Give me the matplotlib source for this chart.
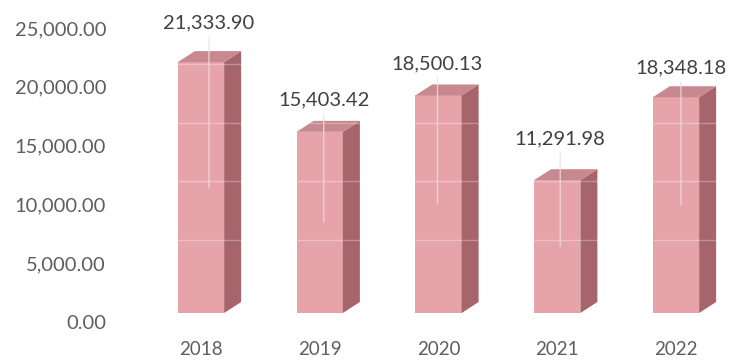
import numpy as np
import matplotlib.pyplot as plt
from matplotlib.patches import Polygon
from matplotlib.transforms import ScaledTranslation

years = ['2018', '2019', '2020', '2021', '2022']
values = [21333.90, 15403.42, 18500.13, 11291.98, 18348.18]
yticks = [0, 5000, 10000, 15000, 20000, 25000]

# where the data labels sit, pixels from the top of each bar (hand placed in the original)
label_off = [(8, 39), (4, 32), (-1, 32), (3, 41), (5, 29)]

front_col = '#E6A3A9'
side_col = '#A6646B'
top_col = '#C7898F'
grey = '#5E5E5E'

plt.rcParams['font.family'] = ['Lato', 'DejaVu Sans']

fig = plt.figure(figsize=(7.33, 3.62), dpi=100)
ax = fig.add_axes([120 / 733, 40 / 362, 610 / 733, 312 / 362])
xmin, xmax = -0.682, 4.455
ymax = 26530
ax.set_xlim(xmin, xmax)
ax.set_ylim(0, ymax)

# bars stand a bit above the axis zero, like the excel 3d chart
lift = ScaledTranslation(0, 9 / 100, fig.dpi_scale_trans)
bar_tr = ax.transData + lift

# depth of the fake 3d, pixels -> data units
dx = 17 * (xmax - xmin) / 610
dy = 11 * ymax / 312
w = 0.39

x = np.arange(len(years))
ax.bar(x, values, w, color=front_col, edgecolor='none', transform=bar_tr, zorder=2)
for xi, v in zip(x, values):
    r = xi + w / 2
    l = xi - w / 2
    side = Polygon([(r, 0), (r + dx, dy), (r + dx, v + dy), (r, v)],
                   closed=True, fc=side_col, ec='none', transform=bar_tr, zorder=2)
    top = Polygon([(l, v), (r, v), (r + dx, v + dy), (l + dx, v + dy)],
                  closed=True, fc=top_col, ec='none', transform=bar_tr, zorder=2)
    ax.add_patch(side)
    ax.add_patch(top)

# faint wall gridlines that only show through the bars
grid_tr = ax.transData + ScaledTranslation(0, 23 / 100, fig.dpi_scale_trans)
for t in yticks[1:]:
    ax.plot([xmin, xmax], [t, t], color='white', lw=1, alpha=0.3,
            transform=grid_tr, zorder=3)

# data labels with leader lines
for xi, v, (ox, oy) in zip(x, values, label_off):
    txt_tr = bar_tr + ScaledTranslation(ox / 100, oy / 100, fig.dpi_scale_trans)
    pt_tr = bar_tr + ScaledTranslation(ox / 100, 0, fig.dpi_scale_trans)
    ax.annotate(f'{v:,.2f}', xy=(xi, v * 0.5), xycoords=pt_tr,
                xytext=(xi, v), textcoords=txt_tr,
                ha='center', va='center', fontsize=14.5, color='#404040',
                arrowprops=dict(arrowstyle='-', color='#EEDFDF', lw=1,
                                alpha=0.8, shrinkA=2, shrinkB=0),
                zorder=5)

ax.set_yticks(yticks)
ax.set_yticklabels([f'{t:,.2f}' for t in yticks])
ax.set_xticks(x)
ax.set_xticklabels(years)
ax.tick_params(axis='y', length=0, labelsize=14.5, labelcolor=grey, pad=10)
ax.tick_params(axis='x', length=0, labelsize=13.5, labelcolor=grey, pad=14)
for s in ax.spines.values():
    s.set_visible(False)

fig.savefig('out.png', dpi=100)
